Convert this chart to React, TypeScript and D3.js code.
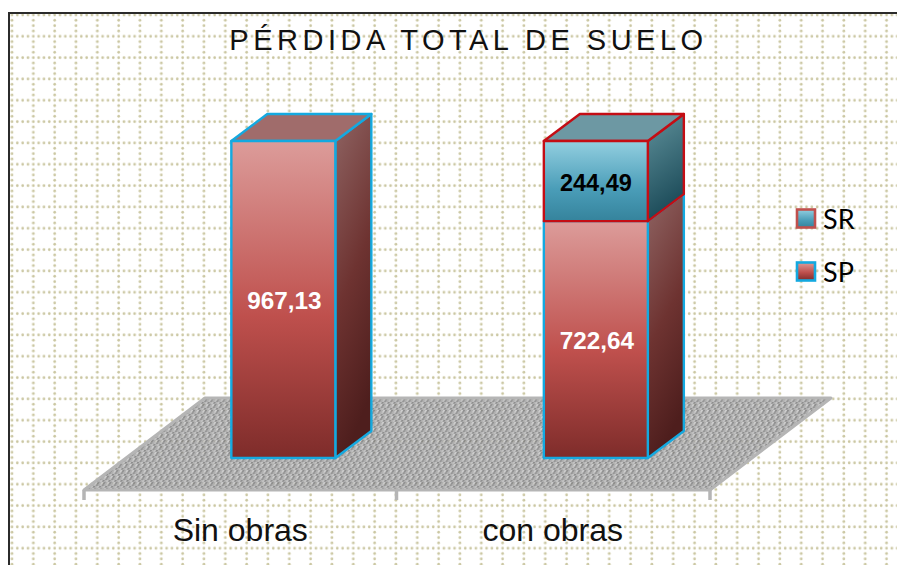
import React from 'react';
import * as d3 from 'd3';

const categories = ['Sin obras', 'con obras'];
const spValues = [967.13, 722.64];
const srValues = [0, 244.49];
const valueLabels = ['967,13', '722,64'];
const srLabels = ['', '244,49'];
const legendItems = ['SR', 'SP'];

const W = 897;
const H = 565;
const floorDx = 121;
const floorDy = 92;
const barDx = 36;
const barDy = 27;
const barW = 104;

const x = d3.scaleBand<string>().domain(categories).range([85, 710]);
const y = d3.scaleLinear().domain([0, 967.13]).range([458, 141]);
const floorY = 490;
const lift = (floorY - y(0)) * (floorDx / floorDy);

const poly = d3.line();

const SP_STROKE = '#14A9E0';
const SR_STROKE = '#C40D14';

// mottled greys for the floor texture tile
const floorGreys = ['#C2C2C2', '#8E8E8E', '#B4B4B4', '#A2A2A2', '#C8C8C8', '#7C7C7C', '#AEAEAE', '#BCBCBC', '#969696'];

function Box({ x0, top, bottom, front, side, roof, stroke, showRoof }: any) {
  const x1 = x0 + barW;
  return (
    <g stroke={stroke} strokeWidth={2.4} strokeLinejoin="round">
      <path
        d={poly([[x1, top], [x1 + barDx, top - barDy], [x1 + barDx, bottom - barDy], [x1, bottom]] as any)! + 'Z'}
        fill={`url(#${side})`}
      />
      {showRoof && (
        <path
          d={poly([[x0, top], [x0 + barDx, top - barDy], [x1 + barDx, top - barDy], [x1, top]] as any)! + 'Z'}
          fill={roof}
        />
      )}
      <rect x={x0} y={top} width={barW} height={bottom - top} fill={`url(#${front})`} />
    </g>
  );
}

function Grad({ id, stops, diag }: { id: string; stops: [number, string][]; diag?: boolean }) {
  return (
    <linearGradient id={id} x1="0" y1="0" x2={diag ? '0.25' : '0'} y2="1">
      {stops.map(([o, c]) => (
        <stop key={o} offset={o} stopColor={c} />
      ))}
    </linearGradient>
  );
}

export default function App() {
  const fl = x.range()[0] - 1;
  const fr = x.range()[1];
  const floorPath = poly([[fl, floorY], [fl + floorDx, floorY - floorDy], [fr + floorDx, floorY - floorDy], [fr, floorY]] as any)! + 'Z';

  return (
    <svg width={W} height={H} style={{ position: 'absolute', left: 0, top: 0 }}>
      <defs>
        <pattern id="grid" x={12 - 2.67} y={15 - 2.67} width={21.33} height={21.33} patternUnits="userSpaceOnUse">
          {d3.range(4).map((i) => (
            <g key={i} fill="#CBC7A2">
              <circle cx={2.67 + i * 5.33} cy={2.67} r={1.35} />
              {i > 0 && <circle cx={2.67} cy={2.67 + i * 5.33} r={1.35} />}
            </g>
          ))}
        </pattern>
        <pattern id="floorTex" width={6} height={6} patternUnits="userSpaceOnUse" patternTransform="skewX(-30)">
          {floorGreys.map((g, i) => (
            <rect key={i} x={(i % 3) * 2} y={Math.floor(i / 3) * 2} width={2} height={2} fill={g} />
          ))}
        </pattern>
        <Grad id="redFront" stops={[[0, '#DC9C9A'], [0.55, '#BF504D'], [1, '#7E2C2A']]} />
        <Grad id="redSide" diag stops={[[0, '#8F6463'], [0.55, '#6E3331'], [1, '#4E1E1D']]} />
        <Grad id="blueFront" stops={[[0, '#93CFE0'], [0.6, '#4A9DB8'], [1, '#35839C']]} />
        <Grad id="blueSide" diag stops={[[0, '#5F919B'], [1, '#1B4A58']]} />
      </defs>

      <rect x={0} y={0} width={W} height={H} fill="#fff" />
      <rect x={9} y={13} width={W} height={H} fill="url(#grid)" stroke="#2B2B2B" strokeWidth={2} />

      <text x={468.5} y={50} textAnchor="middle" fontFamily="Liberation Sans" fontSize={29} letterSpacing={4.5} fill="#111">
        PÉRDIDA TOTAL DE SUELO
      </text>

      <path d={floorPath} fill="url(#floorTex)" stroke="#B5B5B5" strokeWidth={3} strokeLinejoin="round" />
      {[fl, fl + x.bandwidth(), fr].map((t) => (
        <line key={t} x1={t} x2={t} y1={floorY} y2={floorY + 10} stroke="#B5B5B5" strokeWidth={3.5} />
      ))}

      {categories.map((c, i) => {
        const x0 = (x(c) as number) + x.bandwidth() / 2 + lift - barW / 2;
        const spTop = y(spValues[i]);
        const srTop = y(spValues[i] + srValues[i]);
        const hasSr = srValues[i] > 0;
        return (
          <g key={c}>
            <Box x0={x0} top={spTop} bottom={y(0)} front="redFront" side="redSide" roof="#A06C6B" stroke={SP_STROKE} showRoof={!hasSr} />
            {hasSr && <Box x0={x0} top={srTop} bottom={spTop} front="blueFront" side="blueSide" roof="#6D98A3" stroke={SR_STROKE} showRoof />}
            <text x={x0 + barW / 2 + 1} y={(spTop + y(0)) / 2 + 9} textAnchor="middle" fontFamily="Liberation Sans" fontWeight="bold" fontSize={24.3} fill="#fff">
              {valueLabels[i]}
            </text>
            {hasSr && (
              <text x={x0 + barW / 2} y={(srTop + spTop) / 2 + 9.5} textAnchor="middle" fontFamily="Liberation Sans" fontWeight="bold" fontSize={23.5} fill="#000">
                {srLabels[i]}
              </text>
            )}
            <text x={(x(c) as number) + x.bandwidth() / 2 - 1} y={541} textAnchor="middle" fontFamily="Liberation Sans" fontSize={32} fill="#111">
              {c}
            </text>
          </g>
        );
      })}

      {legendItems.map((l, i) => (
        <g key={l} transform={`translate(797,${209.5 + i * 53})`}>
          <rect x={0} y={0} width={18} height={18} fill={`url(#${i === 0 ? 'blueFront' : 'redFront'})`} stroke={i === 0 ? '#C0504D' : SP_STROKE} strokeWidth={2.6} />
          <text x={26} y={19} fontFamily="Lato" fontSize={27} fill="#000">
            {l}
          </text>
        </g>
      ))}
    </svg>
  );
}
